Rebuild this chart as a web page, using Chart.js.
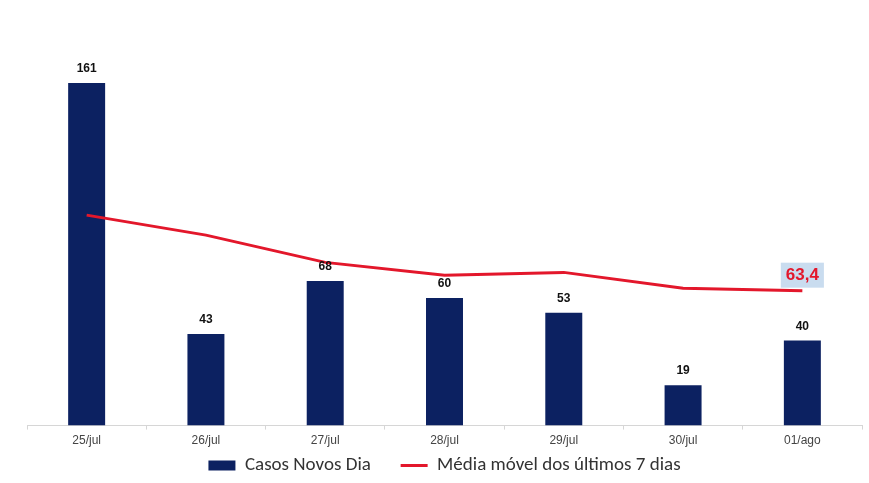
<!DOCTYPE html>
<html>
<head>
<meta charset="utf-8">
<script src="https://cdn.jsdelivr.net/npm/chart.js@4/dist/chart.umd.min.js"></script>
<style>
  html, body { margin: 0; padding: 0; background: #fff; }
  #wrap { width: 869px; height: 483px; }
</style>
</head>
<body>
<div id="wrap"><canvas id="myChart" width="869" height="483"></canvas></div>
<script>
const dias = ['25/jul', '26/jul', '27/jul', '28/jul', '29/jul', '30/jul', '01/ago'];
const casosNovos = [161, 43, 68, 60, 53, 19, 40];
const mediaMovel = [98.9, 89.5, 76.7, 70.6, 72.0, 64.5, 63.4];

const ctx = document.getElementById('myChart').getContext('2d');

// rótulos em cima das barras e valor final da média
const labelsPlugin = {
    id: 'labelsPlugin',
    afterDatasetsDraw(chart) {
        const c = chart.ctx;
        const bars = chart.getDatasetMeta(0).data;
        c.save();
        c.font = 'bold 12px Arial, "Liberation Sans", sans-serif';
        c.fillStyle = '#111';
        c.textAlign = 'center';
        c.textBaseline = 'bottom';
        bars.forEach((bar, i) => {
            c.fillText(casosNovos[i], bar.x, bar.y - 8);
        });

        const pts = chart.getDatasetMeta(1).data;
        const last = pts[pts.length - 1];
        const txt = mediaMovel[mediaMovel.length - 1].toFixed(1).replace('.', ',');
        c.font = 'bold 17px Arial, "Liberation Sans", sans-serif';
        const w = c.measureText(txt).width + 10;
        c.fillStyle = '#c9dcef';
        c.fillRect(last.x - w / 2, last.y - 28, w, 25);
        c.fillStyle = '#e3172b';
        c.textBaseline = 'middle';
        c.fillText(txt, last.x, last.y - 15);
        c.restore();
    }
};

new Chart(ctx, {
    type: 'bar',
    data: {
        labels: dias,
        datasets: [{
            label: 'Casos Novos Dia',
            data: casosNovos,
            backgroundColor: '#0c2161',
            barPercentage: 0.31,
            categoryPercentage: 1,
            order: 2,
            pointStyle: 'rect'
        }, {
            type: 'line',
            label: 'Média móvel dos últimos 7 dias',
            data: mediaMovel,
            borderColor: '#e3172b',
            backgroundColor: '#e3172b',
            borderWidth: 3,
            pointRadius: 0,
            tension: 0,
            fill: false,
            order: 1,
            pointStyle: 'line'
        }]
    },
    options: {
        responsive: false,
        animation: false,
        layout: { padding: { left: 27, right: 7, top: 0, bottom: -2 } },
        scales: {
            x: {
                grid: {
                    display: true,
                    drawOnChartArea: false,
                    drawTicks: true,
                    tickLength: 4,
                    color: '#d6d6d6'
                },
                border: { color: '#d6d6d6' },
                ticks: {
                    color: '#444',
                    font: { size: 12, family: 'Arial, "Liberation Sans", sans-serif' },
                    padding: 4
                }
            },
            y: {
                display: false,
                min: 0,
                max: 200
            }
        },
        plugins: {
            legend: {
                position: 'bottom',
                labels: {
                    usePointStyle: true,
                    pointStyleWidth: 27,
                    boxHeight: 10,
                    color: '#333',
                    padding: 4,
                    font: { size: 19, family: 'Calibri, Carlito, "Open Sans", sans-serif' },
                    sort: (a, b) => a.datasetIndex - b.datasetIndex,
                    // espaço extra entre os itens da legenda
                    generateLabels(chart) {
                        const items = Chart.defaults.plugins.legend.labels.generateLabels(chart);
                        items.forEach(it => {
                            if (it.datasetIndex === 0) it.text += '      ';
                        });
                        return items;
                    }
                }
            },
            tooltip: { enabled: false }
        }
    },
    plugins: [labelsPlugin]
});
</script>
</body>
</html>
